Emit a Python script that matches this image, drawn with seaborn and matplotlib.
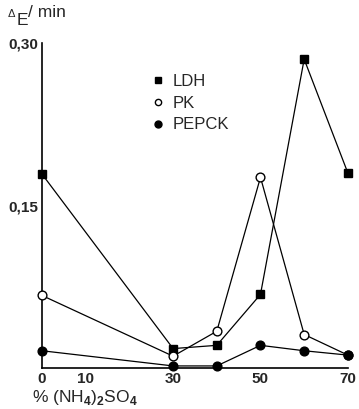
import matplotlib
matplotlib.use("Agg")
import matplotlib.pyplot as plt
from matplotlib.lines import Line2D
import numpy as np
import pandas as pd
import seaborn as sns

# Ammonium sulfate saturation (%) of each fraction
saturation = [0, 30, 40, 50, 60, 70]

# Enzyme activity, delta E per minute
ldh = [0.179, 0.018, 0.021, 0.068, 0.285, 0.180]
pk = [0.067, 0.011, 0.034, 0.176, 0.031, 0.012]
pepck = [0.016, 0.002, 0.002, 0.021, 0.016, 0.012]

series_names = ["LDH", "PK", "PEPCK"]
yticks = [0.15, 0.30]
ytick_labels = ["0,15", "0,30"]
xticks = [0, 10, 30, 50, 70]

frames = []
for name, vals in zip(series_names, [ldh, pk, pepck]):
    frames.append(pd.DataFrame({"sat": saturation, "act": vals, "enzyme": name}))
df = pd.concat(frames, ignore_index=True)

sns.set_style("white")
plt.rcParams["font.family"] = ["Liberation Sans", "DejaVu Sans"]
plt.rcParams["mathtext.fontset"] = "custom"
plt.rcParams["mathtext.rm"] = "Liberation Sans"
plt.rcParams["mathtext.bf"] = "Liberation Sans:bold"

fig = plt.figure(figsize=(3.59, 4.09), dpi=100)
ax = fig.add_axes([0.117, 0.100, 0.852, 0.795])

styles = {
    "LDH": dict(marker="s", markerfacecolor="black", markersize=5.8),
    "PK": dict(marker="o", markerfacecolor="white", markersize=6.3),
    "PEPCK": dict(marker="o", markerfacecolor="black", markersize=6.3),
}
for name in series_names:
    sub = df[df["enzyme"] == name]
    sns.lineplot(data=sub, x="sat", y="act", ax=ax, color="black", linewidth=0.9,
                 markeredgecolor="black", markeredgewidth=1.0, clip_on=False,
                 estimator=None, sort=False, zorder=3, **styles[name])

ax.set_xlim(0, 70)
ax.set_ylim(0, 0.30)
for s in ["top", "right"]:
    ax.spines[s].set_visible(False)
for s in ["left", "bottom"]:
    ax.spines[s].set_color("black")
    ax.spines[s].set_linewidth(1.2)

ax.set_yticks(yticks)
ax.set_yticklabels(ytick_labels, fontsize=11, fontweight="bold")
ax.set_xticks(xticks)
ax.set_xticklabels([str(t) for t in xticks], fontsize=11, fontweight="bold")
ax.tick_params(axis="y", direction="inout", length=4, width=1, color="black", pad=1)
ax.tick_params(axis="x", length=0, pad=3)
ax.set_xlabel("")
ax.set_ylabel("")

# Axis titles
fig.text(0.090, 0.016, r"% (NH$_\mathbf{4}$)$_\mathbf{2}$SO$_\mathbf{4}$", fontsize=12.5,
         ha="left", va="baseline")
fig.text(0.020, 0.958, "Δ", fontsize=8, ha="left", va="baseline")
fig.text(0.045, 0.940, "E", fontsize=12.5, ha="left", va="baseline")
fig.text(0.078, 0.958, "/ min", fontsize=12.5, ha="left", va="baseline")

handles = [
    Line2D([], [], linestyle="none", marker="s", markersize=4.5, color="black",
           markerfacecolor="black"),
    Line2D([], [], linestyle="none", marker="o", markersize=4.5, color="black",
           markerfacecolor="white"),
    Line2D([], [], linestyle="none", marker="o", markersize=5, color="black",
           markerfacecolor="black"),
]
ax.legend(handles, series_names, loc="upper left", bbox_to_anchor=(0.33, 0.93),
          frameon=False, fontsize=12, handlelength=0.8, handletextpad=0.5,
          labelspacing=0.4, borderpad=0)

fig.savefig("out.png", dpi=100, facecolor="white")
